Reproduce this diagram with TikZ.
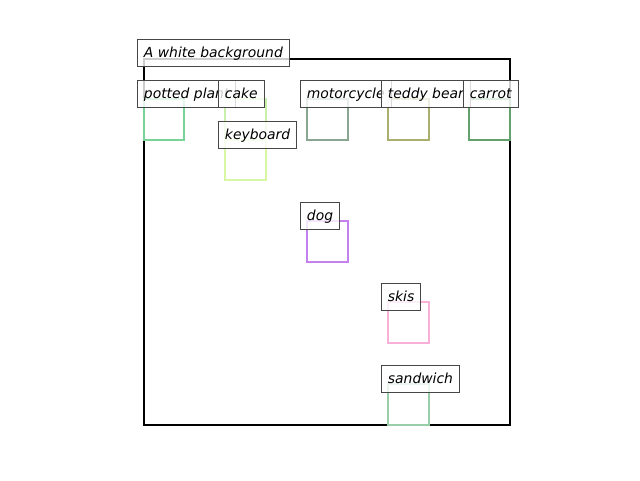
\documentclass[tikz,border=0pt]{standalone}
\usepackage{fontspec}
\setmainfont{DejaVu Sans}
\definecolor{cpotted}{RGB}{120,212,150}
\definecolor{ccake}{RGB}{200,240,170}
\definecolor{ckeyb}{RGB}{215,247,165}
\definecolor{cmoto}{RGB}{136,166,146}
\definecolor{cteddy}{RGB}{170,174,110}
\definecolor{ccarrot}{RGB}{100,160,108}
\definecolor{cdog}{RGB}{196,128,238}
\definecolor{cskis}{RGB}{248,176,216}
\definecolor{csand}{RGB}{152,206,168}
\definecolor{lblborder}{RGB}{70,70,70}
\tikzset{
  box/.style={line width=2pt},
  lbl/.style={draw=lblborder, line width=0.9pt, fill=white, fill opacity=0.8, text opacity=1,
    anchor=south west, inner xsep=6.5pt, inner ysep=5.65pt, text height=12.5pt, text depth=3.2pt,
    font=\fontsize{13.9}{16}\selectfont\itshape},
}
\begin{document}
\begin{tikzpicture}[x=1pt,y=-1pt]
\useasboundingbox (0,0) rectangle (640,480);
% main frame
\draw[line width=2pt, black] (144,59) rectangle (510,425);
% object boxes
\draw[box, cpotted] (144,99) rectangle (184,140);
\draw[box, ccake] (225,99) rectangle (266,140);
\draw[box, ckeyb] (225,140) rectangle (266,180);
\draw[box, cmoto] (307,99) rectangle (348,140);
\draw[box, cteddy] (388,99) rectangle (429,140);
\draw[box, ccarrot] (469,99) rectangle (510,140);
\draw[box, cdog] (307,221) rectangle (348,262);
\draw[box, cskis] (388,302) rectangle (429,343);
\draw[box, csand] (388,384) rectangle (429,425);
% labels
\node[lbl] (bg) at (137,67) {A white background};
\node[lbl] (potted) at (137,108) {potted plant};
\node[lbl] (cake) at (218,108) {cake};
\node[lbl] (keyboard) at (218,149) {keyboard};
\node[lbl] (moto) at (300,108) {motorcycle};
\node[lbl] (teddy) at (381,108) {teddy bear};
\node[lbl] (carrot) at (463,108) {carrot};
\node[lbl] (dog) at (300,230) {dog};
\node[lbl] (skis) at (381,311) {skis};
\node[lbl] (sandwich) at (381,393) {sandwich};
\end{tikzpicture}
\end{document}
